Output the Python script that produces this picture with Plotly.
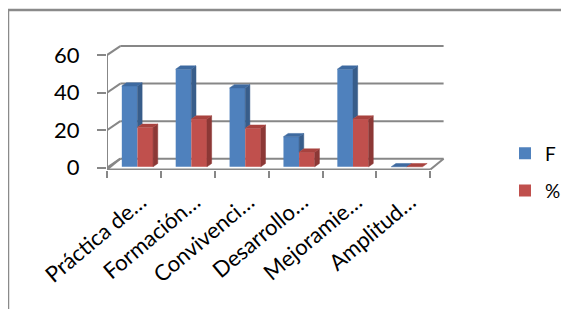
import plotly.graph_objects as go

# ---------------- data ----------------
categories = ["Práctica de…", "Formación…", "Convivenci…", "Desarrollo…", "Mejoramie…", "Amplitud…"]
series_names = ["F", "%"]
values_f = [43, 52, 42, 16, 52, 0]
values_pct = [21, 25.4, 20.5, 7.8, 25.4, 0]
y_ticks = [0, 20, 40, 60]

# ---------------- style ----------------
FRONT = ["#4F81BD", "#C0504D"]
SIDE = ["#385D8A", "#8C3836"]
TOP = ["#3E6AA0", "#A8433F"]
GRID = "#878787"
FONT = "Lato"

# pseudo-3D geometry (axis units)
BAR_W = 0.29
GROUP_OFF = -0.225
BASE = 0.5
BAR_DX = 0.087
BAR_DY = 1.75
WALL_DX = 0.247
WALL_DY = 4.8
FLOOR = -1.0
LABEL_SHIFT = 0.13

n = len(categories)
X_MIN = -0.5
X_END = n - 0.5
X_MAX = 5.773
Y_MIN = -1.22
Y_MAX = 65.9

# page has an 8px body margin; figure is sized to fit the window
W, H = 561, 301
ML, MR, MT, MB = 99, 124, 36, 139
PW = W - ML - MR
PH = H - MT - MB

series = [values_f, values_pct]

fig = go.Figure()

# front faces
for s, (name, vals) in enumerate(zip(series_names, series)):
    fig.add_trace(go.Bar(
        x=list(range(n)), y=vals, base=BASE, width=BAR_W,
        offset=GROUP_OFF + s * BAR_W,
        marker=dict(color=FRONT[s], line=dict(width=0)),
        name=name, legendgroup=name, xaxis="x", yaxis="y",
        hoverinfo="skip",
    ))


def poly(xs, ys, color):
    fig.add_trace(go.Scatter(
        x=xs + [xs[0]], y=ys + [ys[0]], mode="lines", fill="toself",
        fillcolor=color, line=dict(width=0.5, color=color),
        showlegend=False, hoverinfo="skip", xaxis="x2", yaxis="y",
    ))


# top and side faces
for i in range(n):
    for s, vals in enumerate(series):
        v = vals[i]
        xl = i + GROUP_OFF + s * BAR_W
        xr = xl + BAR_W
        top = BASE + v
        low = BASE
        if s + 1 < len(series):
            low = BASE + min(v, series[s + 1][i])
        if top > low:
            poly([xr, xr + BAR_DX, xr + BAR_DX, xr],
                 [low, low + BAR_DY, top + BAR_DY, top], SIDE[s])
        poly([xl, xr, xr + BAR_DX, xl + BAR_DX],
             [top, top, top + BAR_DY, top + BAR_DY], TOP[s])

shapes = []


def line(x0, y0, x1, y1, width=2):
    shapes.append(dict(type="line", xref="x", yref="y", x0=x0, y0=y0, x1=x1, y1=y1,
                       line=dict(color=GRID, width=width), layer="below"))


for v in y_ticks:
    line(X_MIN + WALL_DX, v + WALL_DY, X_END + WALL_DX, v + WALL_DY)
    line(X_MIN, v, X_MIN + WALL_DX, v + WALL_DY)
# floor edges
line(X_MIN, FLOOR, X_END, FLOOR)
line(X_END, FLOOR, X_END + WALL_DX, WALL_DY)
line(X_MIN, FLOOR, X_MIN + WALL_DX, WALL_DY)
# vertical axis line
line(X_MIN, FLOOR, X_MIN, max(y_ticks))

# outer frame
shapes.append(dict(type="rect", xref="paper", yref="paper",
                   x0=(0 - ML) / PW, x1=(W + 40 - ML) / PW,
                   y0=-(H + 40 - MT - PH) / PH, y1=(MT + PH - 2) / PH,
                   line=dict(color="#8A8A8A", width=2.5), fillcolor="rgba(0,0,0,0)"))

fig.update_layout(
    width=W, height=H,
    margin=dict(l=ML, r=MR, t=MT, b=MB, autoexpand=False),
    paper_bgcolor="white", plot_bgcolor="rgba(0,0,0,0)",
    font=dict(family=FONT, color="black"),
    barmode="group",
    shapes=shapes,
    showlegend=True,
    legend=dict(x=(497 - ML) / PW, xanchor="left", y=(MT + PH - 126.5) / PH, yanchor="top",
                font=dict(family=FONT, size=19), tracegroupgap=9.5,
                bgcolor="rgba(0,0,0,0)"),
    xaxis=dict(range=[X_MIN, X_MAX], tickmode="array",
               tickvals=[i - 0.5 for i in range(n + 1)],
               showticklabels=False, ticks="outside", ticklen=7, tickwidth=2, tickcolor=GRID,
               showgrid=False, zeroline=False, showline=False, fixedrange=True),
    xaxis2=dict(range=[X_MIN, X_MAX], overlaying="x", anchor="y", side="bottom",
                tickmode="array", tickvals=[i + LABEL_SHIFT for i in range(n)], ticktext=categories,
                tickangle=-40, ticks="", showgrid=False, zeroline=False, showline=False,
                ticklabelstandoff=14,
                tickfont=dict(family=FONT, size=22), fixedrange=True),
    yaxis=dict(range=[Y_MIN, Y_MAX], tickmode="array", tickvals=y_ticks,
               ticks="outside", ticklen=9, tickwidth=2, tickcolor=GRID,
               ticklabelstandoff=13,
               showgrid=False, zeroline=False, showline=False,
               tickfont=dict(family=FONT, size=22), fixedrange=True),
)

fig.write_html("out.html")
